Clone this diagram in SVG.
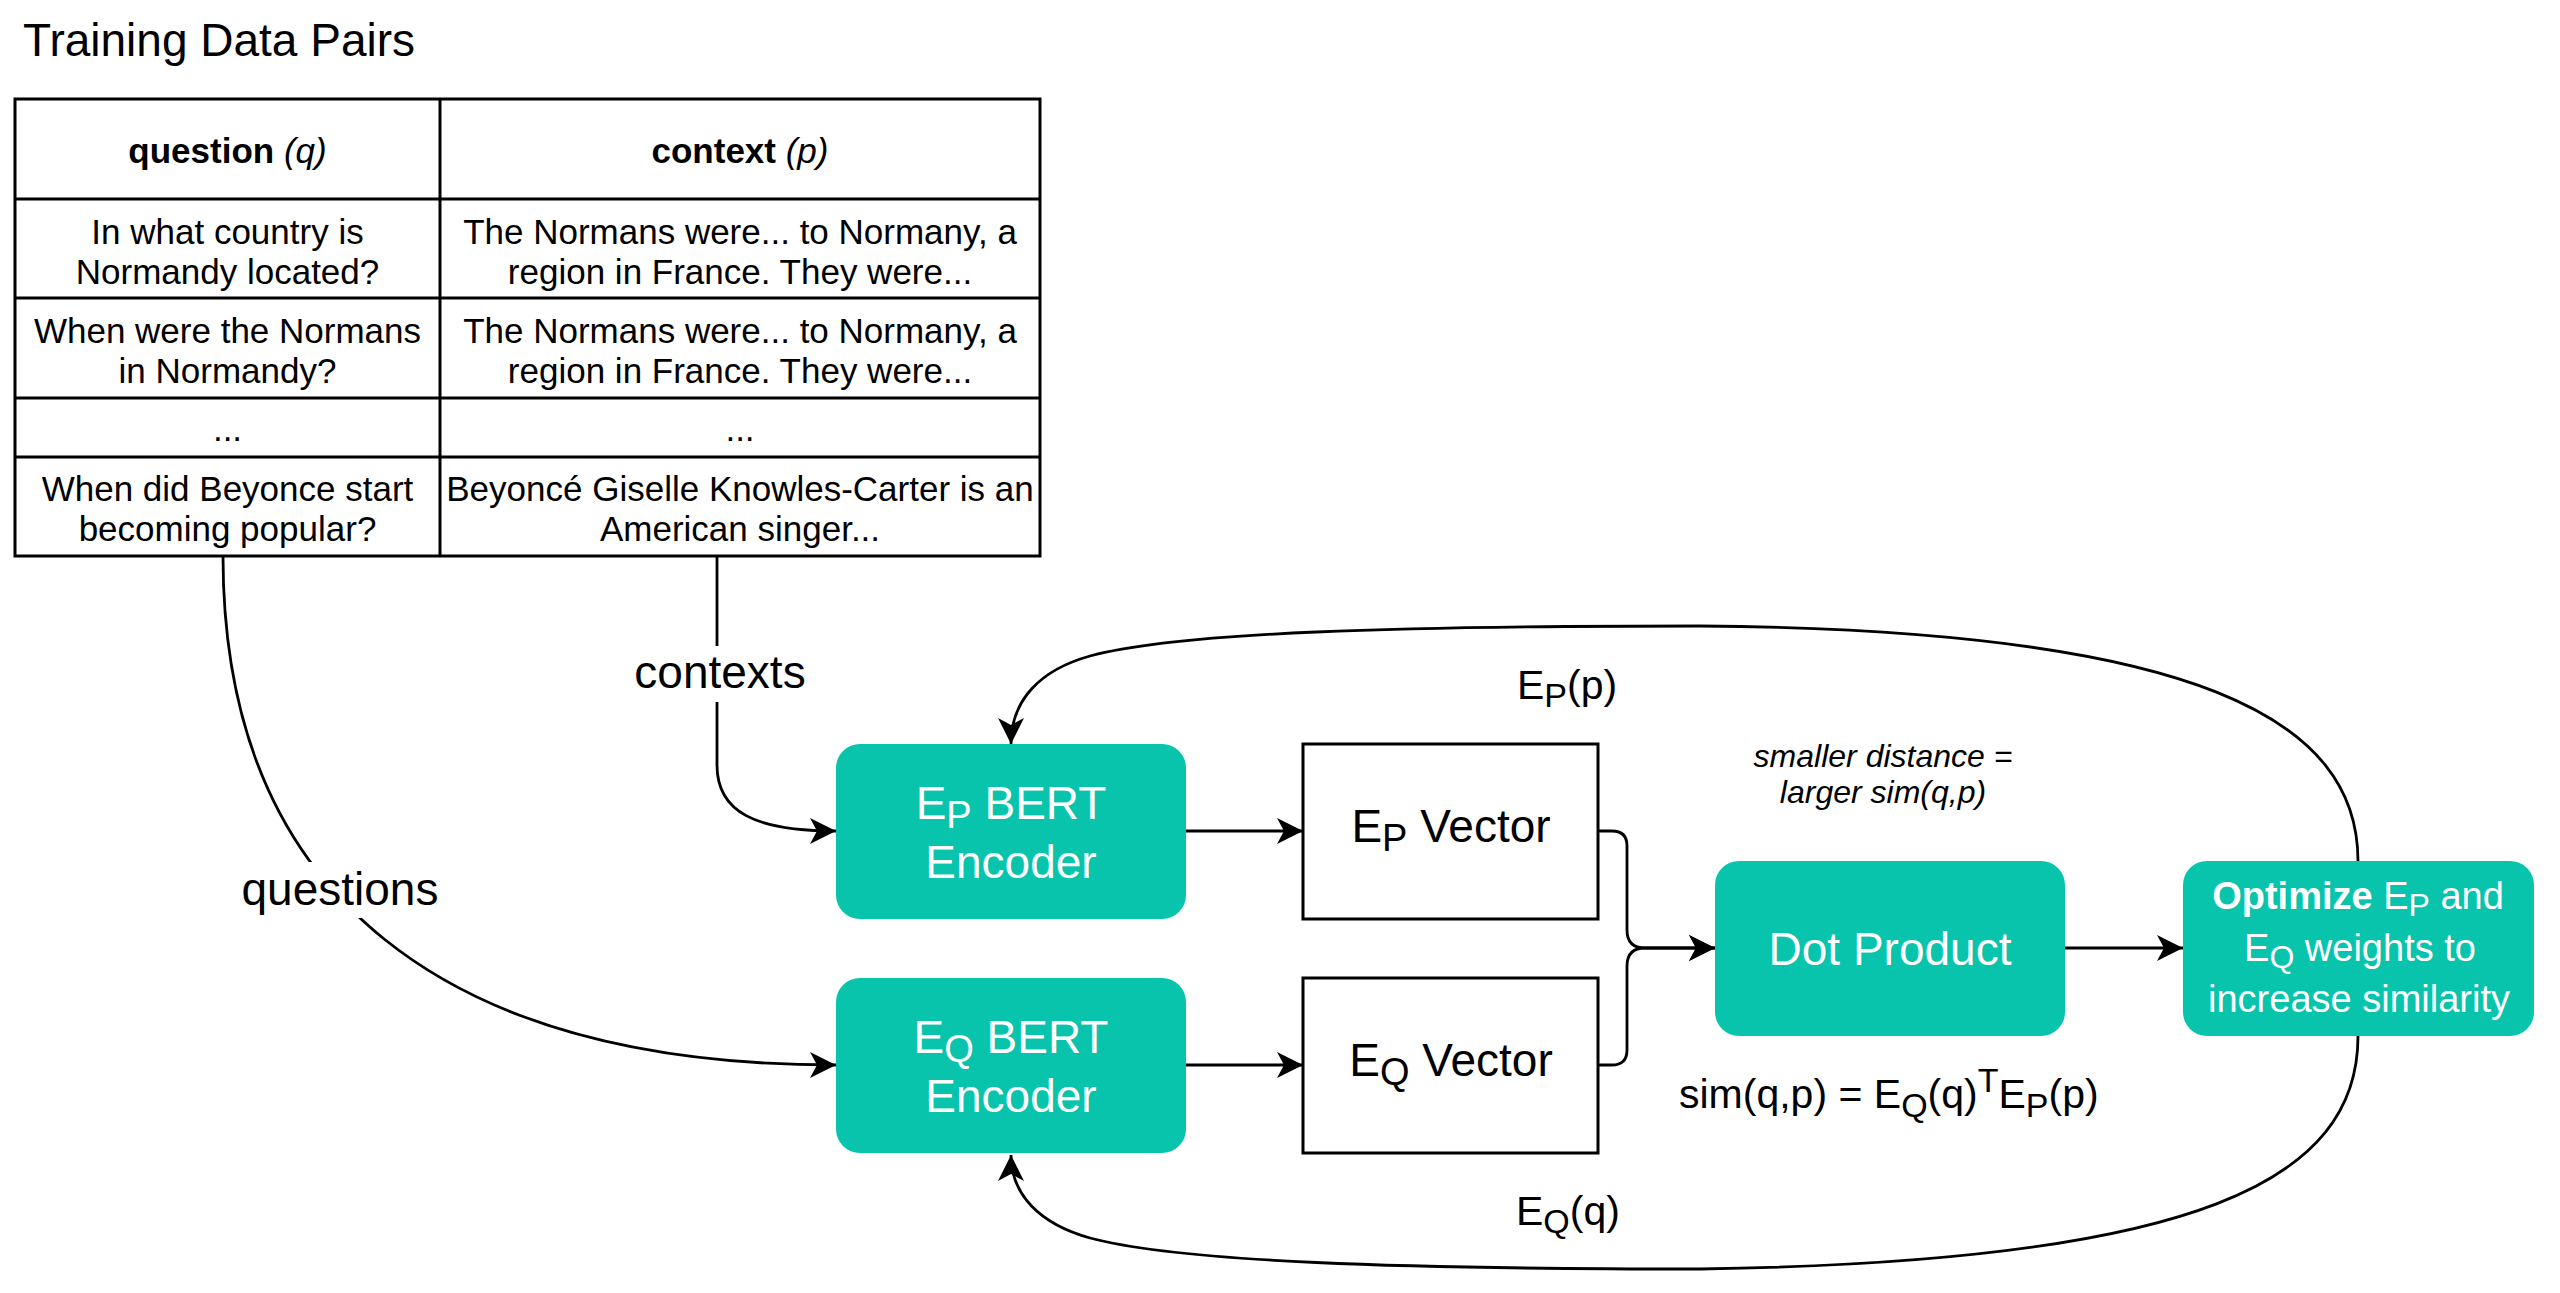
<svg xmlns="http://www.w3.org/2000/svg" width="2560" height="1293" viewBox="0 0 2560 1293">
<style>
text{font-family:"Liberation Sans",Arial,Helvetica,sans-serif;fill:#000}
.t35{font-size:35px}
.mid{text-anchor:middle}
.conn{fill:none;stroke:#000;stroke-width:2.8}
.teal{fill:#09C4AC}
.wbox{fill:#fff;stroke:#000;stroke-width:3}
.wt{fill:#fff}
.grid{fill:none;stroke:#000;stroke-width:3}
</style>
<defs>
<marker id="arr" markerUnits="userSpaceOnUse" viewBox="0 0 26 26" refX="26" refY="13" markerWidth="26" markerHeight="26" orient="auto">
<path d="M0,0 L26,13 L0,26 L7,13 Z" fill="#000"/>
</marker>
</defs>
<rect width="2560" height="1293" fill="#fff"/>

<text id="title" x="23" y="56" style="font-size:46px">Training Data Pairs</text>

<g id="table">
<rect class="grid" x="15" y="99" width="1025" height="457"/>
<line class="grid" x1="440" y1="99" x2="440" y2="556"/>
<line class="grid" x1="15" y1="199" x2="1040" y2="199"/>
<line class="grid" x1="15" y1="298" x2="1040" y2="298"/>
<line class="grid" x1="15" y1="398" x2="1040" y2="398"/>
<line class="grid" x1="15" y1="457" x2="1040" y2="457"/>
<text class="t35 mid" x="227.5" y="163"><tspan font-weight="bold">question</tspan> <tspan font-style="italic">(q)</tspan></text>
<text class="t35 mid" x="740" y="163"><tspan font-weight="bold">context</tspan> <tspan font-style="italic">(p)</tspan></text>
<text class="t35 mid" x="227.5" y="244">In what country is</text>
<text class="t35 mid" x="227.5" y="284">Normandy located?</text>
<text class="t35 mid" x="740" y="244">The Normans were... to Normany, a</text>
<text class="t35 mid" x="740" y="284">region in France. They were...</text>
<text class="t35 mid" x="227.5" y="343">When were the Normans</text>
<text class="t35 mid" x="227.5" y="383">in Normandy?</text>
<text class="t35 mid" x="740" y="343">The Normans were... to Normany, a</text>
<text class="t35 mid" x="740" y="383">region in France. They were...</text>
<text class="t35 mid" x="227.5" y="441">...</text>
<text class="t35 mid" x="740" y="441">...</text>
<text class="t35 mid" x="227.5" y="501">When did Beyonce start</text>
<text class="t35 mid" x="227.5" y="541">becoming popular?</text>
<text class="t35 mid" x="740" y="501">Beyoncé Giselle Knowles-Carter is an</text>
<text class="t35 mid" x="740" y="541">American singer...</text>
</g>

<g id="connectors">
<path id="c-questions" class="conn" d="M223,556 C223,900 450,1065 836,1065" marker-end="url(#arr)"/>
<path id="c-contexts" class="conn" d="M717,556 L717,765 C717,812 755,831 836,831" marker-end="url(#arr)"/>
<path id="c-ep-vec" class="conn" d="M1186,831 L1303,831" marker-end="url(#arr)"/>
<path id="c-eq-vec" class="conn" d="M1186,1065 L1303,1065" marker-end="url(#arr)"/>
<path id="c-epv-dot" class="conn" d="M1598,831 L1612,831 Q1627,831 1627,846 L1627,930 Q1627,948 1645,948 L1715,948" marker-end="url(#arr)"/>
<path id="c-eqv-dot" class="conn" d="M1598,1065 L1612,1065 Q1627,1065 1627,1050 L1627,966 Q1627,948 1645,948 L1715,948" marker-end="url(#arr)"/>
<path id="c-dot-opt" class="conn" d="M2065,948 L2183,948" marker-end="url(#arr)"/>
<path id="c-opt-ep" class="conn" d="M2358,861 C2358,720 2200,630 1700,626 C1400,626 1180,632 1090,656 C1040,670 1011,700 1011,744" marker-end="url(#arr)"/>
<path id="c-opt-eq" class="conn" d="M2358,1036 C2358,1180 2200,1262 1700,1269 C1400,1269 1180,1262 1090,1238 C1040,1224 1011,1195 1011,1155" marker-end="url(#arr)"/>
<g id="edge-labels">
<rect x="632" y="646" width="176" height="56" fill="#fff"/>
<text x="720" y="688" class="mid" style="font-size:46px">contexts</text>
<rect x="238" y="862" width="204" height="56" fill="#fff"/>
<text x="340" y="905" class="mid" style="font-size:46px">questions</text>
<text x="1517" y="699" style="font-size:41px">E<tspan font-size="34" dy="8">P</tspan><tspan dy="-8">(p)</tspan></text>
<text x="1516" y="1225" style="font-size:41px">E<tspan font-size="34" dy="8">Q</tspan><tspan dy="-8">(q)</tspan></text>
</g>
</g>

<g id="ep-encoder">
<rect class="teal" x="836" y="744" width="350" height="175" rx="24" ry="24"/>
<text class="wt mid" x="1011" y="819" style="font-size:46px;fill:#fff">E<tspan font-size="38" dy="9">P</tspan><tspan dy="-9"> BERT</tspan></text>
<text class="wt mid" x="1011" y="878" style="font-size:46px;fill:#fff">Encoder</text>
</g>

<g id="eq-encoder">
<rect class="teal" x="836" y="978" width="350" height="175" rx="24" ry="24"/>
<text class="mid" x="1011" y="1053" style="font-size:46px;fill:#fff">E<tspan font-size="38" dy="9">Q</tspan><tspan dy="-9"> BERT</tspan></text>
<text class="mid" x="1011" y="1112" style="font-size:46px;fill:#fff">Encoder</text>
</g>

<g id="ep-vector">
<rect class="wbox" x="1303" y="744" width="295" height="175"/>
<text class="mid" x="1451" y="842" style="font-size:46px">E<tspan font-size="38" dy="9">P</tspan><tspan dy="-9"> Vector</tspan></text>
</g>

<g id="eq-vector">
<rect class="wbox" x="1303" y="978" width="295" height="175"/>
<text class="mid" x="1451" y="1076" style="font-size:46px">E<tspan font-size="38" dy="9">Q</tspan><tspan dy="-9"> Vector</tspan></text>
</g>

<g id="dot-product">
<rect class="teal" x="1715" y="861" width="350" height="175" rx="24" ry="24"/>
<text class="mid" x="1890" y="965" style="font-size:46px;fill:#fff">Dot Product</text>
</g>

<g id="optimize">
<rect class="teal" x="2183" y="861" width="351" height="175" rx="24" ry="24"/>
<text class="mid" x="2358" y="909" style="font-size:38px;fill:#fff"><tspan font-weight="bold">Optimize</tspan> E<tspan font-size="32" dy="7">P</tspan><tspan dy="-7"> and</tspan></text>
<text class="mid" x="2360" y="961" style="font-size:38px;fill:#fff">E<tspan font-size="32" dy="7">Q</tspan><tspan dy="-7"> weights to</tspan></text>
<text class="mid" x="2359" y="1012" style="font-size:38px;fill:#fff">increase similarity</text>
</g>

<g id="notes">
<text class="mid" x="1883" y="767" style="font-size:32px;font-style:italic">smaller distance =</text>
<text class="mid" x="1883" y="803" style="font-size:32px;font-style:italic">larger sim(q,p)</text>
<text x="1679" y="1108" style="font-size:41px">sim(q,p) = E<tspan font-size="34" dy="9">Q</tspan><tspan dy="-9">(q)</tspan><tspan font-size="34" dy="-16">T</tspan><tspan dy="16">E</tspan><tspan font-size="34" dy="9">P</tspan><tspan dy="-9">(p)</tspan></text>
</g>
</svg>
